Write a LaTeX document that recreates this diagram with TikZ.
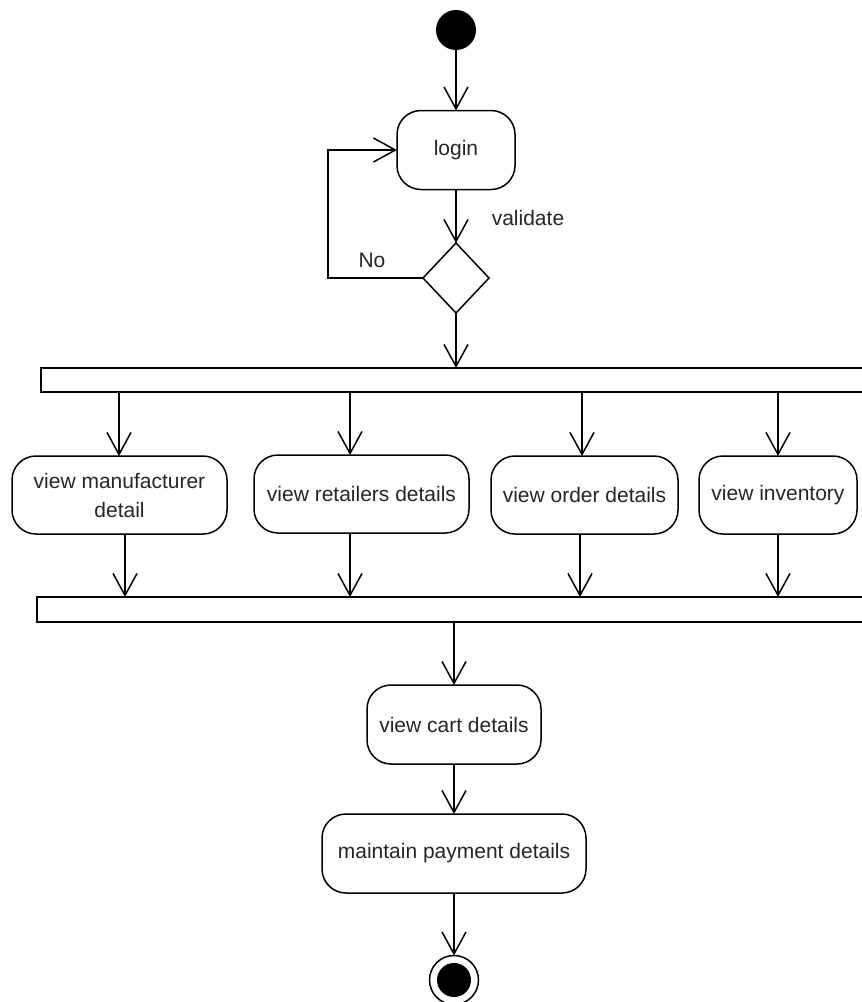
\documentclass[tikz,border=0pt]{standalone}
\usepackage{fontspec}
\setmainfont{Liberation Sans}
\usetikzlibrary{arrows.meta,shapes.geometric}

\begin{document}
\begin{tikzpicture}[x=1pt,y={(0pt,-1pt)},
  every node/.style={inner sep=0pt, outer sep=0pt},
  lbl/.style={font=\fontsize{21}{29}\selectfont, text=black!85},
  act/.style={draw, line width=1.5pt, rounded corners=24pt, fill=white,
    align=center, lbl, minimum height=79pt},
  bar/.style={draw, line width=1.5pt, fill=white},
  flow/.style={line width=1.5pt, -{Straight Barb[length=22pt,width=24pt,line width=1.5pt]}}]
  \useasboundingbox (0,0) rectangle (862,1002);

  % initial node, login and validation
  \node[circle, fill=black, minimum size=40pt] (start) at (456,30) {};
  \node[act, minimum width=118pt] (login) at (456,150) {login};
  \node[diamond, draw, line width=1.5pt, minimum width=66pt, minimum height=70pt] (dec) at (456,278) {};
  \node[lbl] (val) at (528,218) {validate};
  \node[lbl] (no) at (372,260) {No};
  \coordinate (loop) at (328,278);

  % fork and join bars (they run off the right edge)
  \node[bar, minimum width=829pt, minimum height=24pt] (bar1) at (455.5,380) {};
  \node[bar, minimum width=833pt, minimum height=25pt] (bar2) at (453.5,609.5) {};

  % parallel activities
  \node[act, minimum width=215pt, minimum height=78pt] (a1) at (119.5,495) {view manufacturer\\detail};
  \node[act, minimum width=215pt, minimum height=78pt] (a2) at (361.5,494) {view retailers details};
  \node[act, minimum width=187pt, minimum height=78pt] (a3) at (584.5,495) {view order details};
  \node[act, minimum width=158pt, minimum height=78pt] (a4) at (778,495) {view inventory};

  % closing sequence
  \node[act, minimum width=174pt] (cart) at (454,724.5) {view cart details};
  \node[act, minimum width=264pt] (pay) at (454,853.5) {maintain payment details};
  \node[circle, draw, line width=1.5pt, fill=white, minimum size=49pt] (end) at (454,980) {};
  \node[circle, fill=black, minimum size=34pt] (endin) at (end.center) {};

  % connectors
  \draw[flow] (start) -- (login);
  \draw[flow] (login) -- (dec);
  \draw[flow] (dec.west) -- (loop) |- (login.west);
  \draw[flow] (dec.south) -- (dec.south |- bar1.north);

  \coordinate (t1) at ([xshift=-0.5pt]a1.north);
  \coordinate (t2) at ([xshift=-11.5pt]a2.north);
  \coordinate (t3) at ([xshift=-2.5pt]a3.north);
  \coordinate (t4) at (a4.north);
  \foreach \t in {t1,t2,t3,t4}
    \draw[flow] (\t |- bar1.south) -- (\t);

  \coordinate (b1) at ([xshift=5.5pt]a1.south);
  \coordinate (b2) at ([xshift=-11.5pt]a2.south);
  \coordinate (b3) at ([xshift=-4.5pt]a3.south);
  \coordinate (b4) at (a4.south);
  \foreach \b in {b1,b2,b3,b4}
    \draw[flow] (\b) -- (\b |- bar2.north);

  \draw[flow] (cart.north |- bar2.south) -- (cart.north);
  \draw[flow] (cart) -- (pay);
  \draw[flow] (pay) -- (end);
\end{tikzpicture}
\end{document}
